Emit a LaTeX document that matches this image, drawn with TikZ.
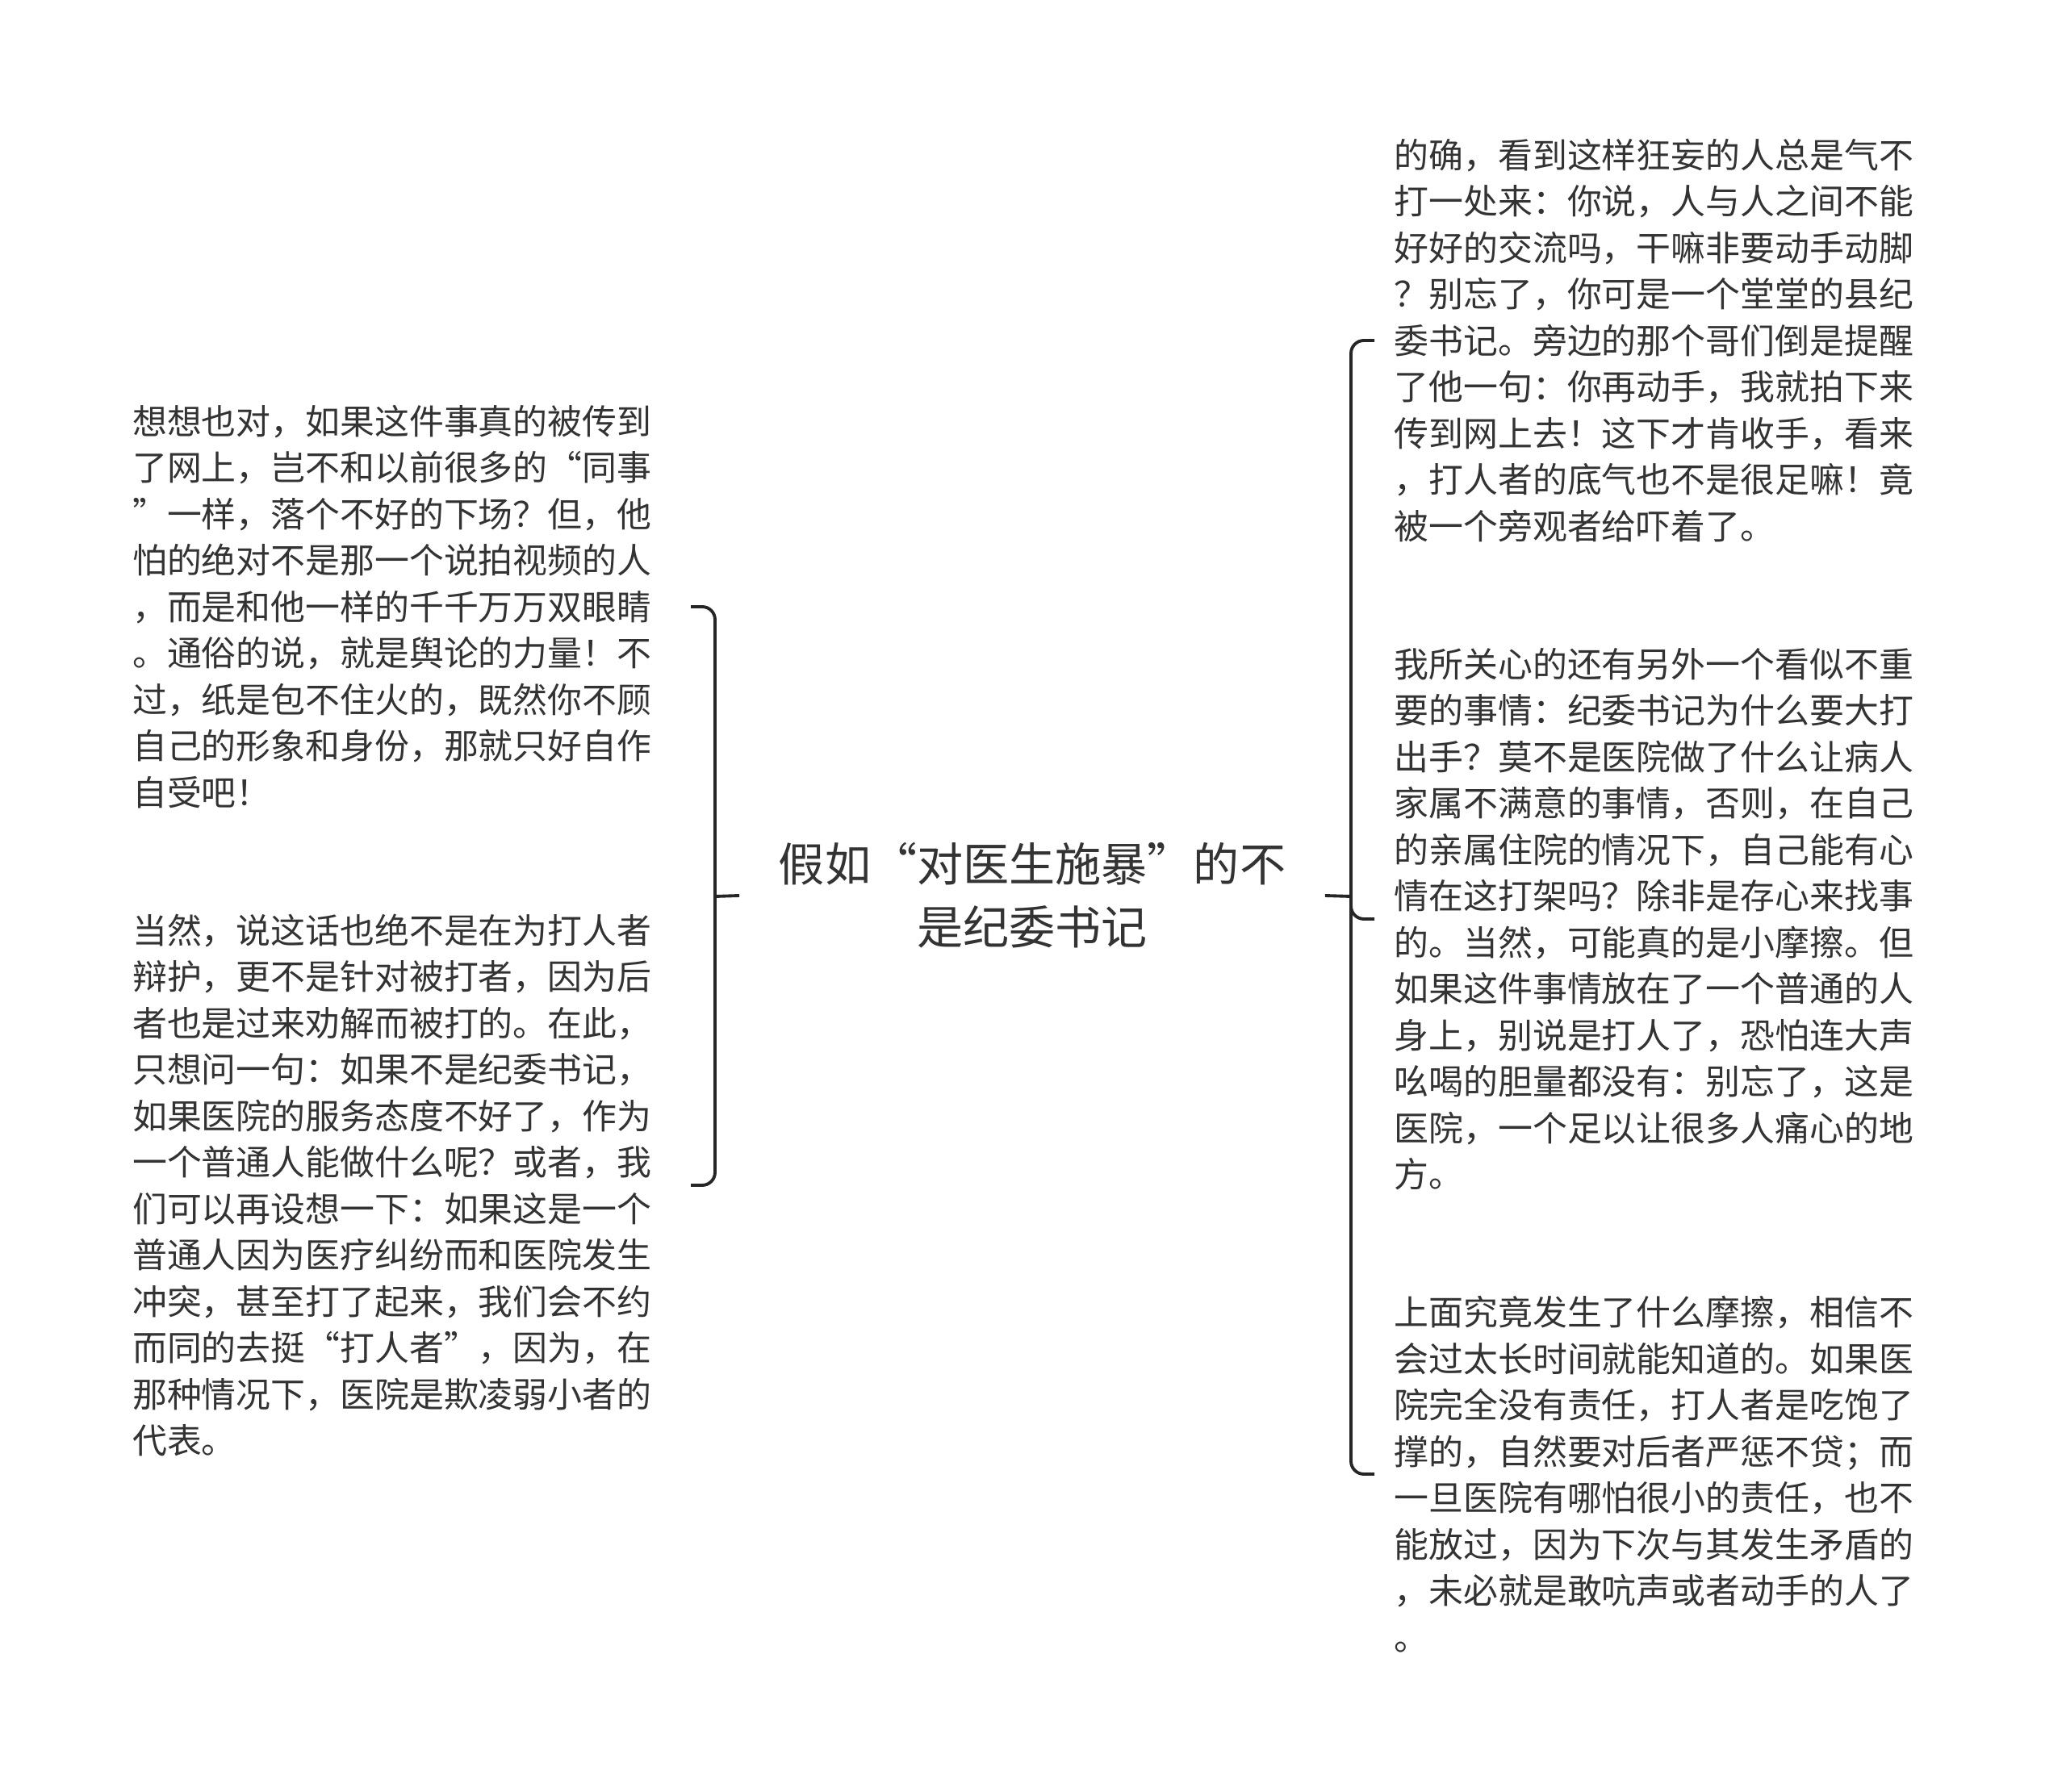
\documentclass[tikz,border=0pt]{standalone}
\usepackage{fontspec}
\setmainfont{Noto Sans CJK SC}
\usetikzlibrary{positioning}
\definecolor{ink}{HTML}{333333}
\definecolor{wire}{HTML}{262626}

\begin{document}
\begin{tikzpicture}[
  topic/.style={font=\fontsize{16.25}{22.2}\selectfont,text=ink,align=center,
                inner xsep=4.8mm,inner ysep=0pt},
  para/.style={font=\fontsize{12.2}{16.36}\selectfont,text=ink,align=left,
               inner ysep=0pt},
  lpara/.style={para,inner xsep=4.8mm,anchor=east},
  rpara/.style={para,inner xsep=2.4mm,anchor=west},
  link/.style={draw=wire,line width=1.1pt,rounded corners=1.6mm},
]
\useasboundingbox (0,0) rectangle (25.6,-22.21);

%------------------------------------------------------------------ topic ---
\node[topic] (topic) at (12.79,-11.10)
  {假如“对医生施暴”的不\\是纪委书记};

%------------------------------------------------------------------- left ---
\node[lpara] (l1) at (8.56,-7.52)
  {想想也对，如果这件事真的被传到\\
   了网上，岂不和以前很多的“同事\\
   ”一样，落个不好的下场？但，他\\
   怕的绝对不是那一个说拍视频的人\\
   ，而是和他一样的千千万万双眼睛\\
   。通俗的说，就是舆论的力量！不\\
   过，纸是包不住火的，既然你不顾\\
   自己的形象和身份，那就只好自作\\
   自受吧！};

\node[lpara] (l2) at (8.56,-14.69)
  {当然，说这话也绝不是在为打人者\\
   辩护，更不是针对被打者，因为后\\
   者也是过来劝解而被打的。在此，\\
   只想问一句：如果不是纪委书记，\\
   如果医院的服务态度不好了，作为\\
   一个普通人能做什么呢？或者，我\\
   们可以再设想一下：如果这是一个\\
   普通人因为医疗纠纷而和医院发生\\
   冲突，甚至打了起来，我们会不约\\
   而同的去挺“打人者”，因为，在\\
   那种情况下，医院是欺凌弱小者的\\
   代表。};

%------------------------------------------------------------------ right ---
\node[rpara] (r1) at (17.03,-4.22)
  {的确，看到这样狂妄的人总是气不\\
   打一处来：你说，人与人之间不能\\
   好好的交流吗，干嘛非要动手动脚\\
   ？别忘了，你可是一个堂堂的县纪\\
   委书记。旁边的那个哥们倒是提醒\\
   了他一句：你再动手，我就拍下来\\
   传到网上去！这下才肯收手，看来\\
   ，打人者的底气也不是很足嘛！竟\\
   被一个旁观者给吓着了。};

\node[rpara] (r2) at (17.03,-11.39)
  {我所关心的还有另外一个看似不重\\
   要的事情：纪委书记为什么要大打\\
   出手？莫不是医院做了什么让病人\\
   家属不满意的事情，否则，在自己\\
   的亲属住院的情况下，自己能有心\\
   情在这打架吗？除非是存心来找事\\
   的。当然，可能真的是小摩擦。但\\
   如果这件事情放在了一个普通的人\\
   身上，别说是打人了，恐怕连大声\\
   吆喝的胆量都没有：别忘了，这是\\
   医院，一个足以让很多人痛心的地\\
   方。};

\node[rpara] (r3) at (17.03,-18.27)
  {上面究竟发生了什么摩擦，相信不\\
   会过太长时间就能知道的。如果医\\
   院完全没有责任，打人者是吃饱了\\
   撑的，自然要对后者严惩不贷；而\\
   一旦医院有哪怕很小的责任，也不\\
   能放过，因为下次与其发生矛盾的\\
   ，未必就是敢吭声或者动手的人了\\
   。};

%---------------------------------------------------------------- links ---
\coordinate (lj) at (8.86,-11.11);
\coordinate (rj) at (16.74,-11.11);
\draw[link] (topic.west) -- (lj);
\foreach \n in {l1,l2}{\draw[link] (lj) |- (\n.east);}
\draw[link] (topic.east) -- (rj);
\foreach \n in {r1,r2,r3}{\draw[link] (rj) |- (\n.west);}

\end{tikzpicture}
\end{document}
